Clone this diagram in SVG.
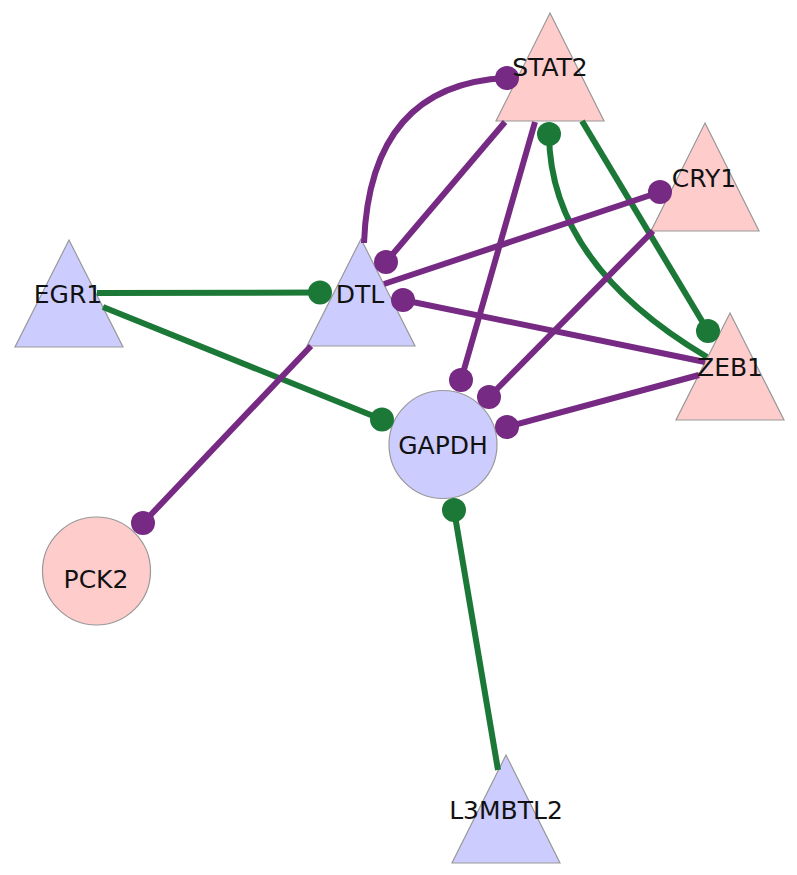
<svg xmlns="http://www.w3.org/2000/svg" width="797" height="875" viewBox="0 0 797 875">
<style>
.bg{fill:#ffffff}
.up{fill:#ffcccc;stroke:#999999;stroke-width:1.2}
.dn{fill:#ccccff;stroke:#999999;stroke-width:1.2}
.e{fill:none;stroke-width:6;stroke-linecap:butt}
.p{stroke:#762a83}
.g{stroke:#1b7837}
.dp{fill:#762a83}
.dg{fill:#1b7837}
.lbl{font-family:"DejaVu Sans","Liberation Sans",sans-serif;font-size:25px;fill:#111111;text-anchor:middle}
</style>
<rect class="bg" x="0" y="0" width="797" height="875"/>
<g id="nodes">
  <g id="STAT2"><polygon class="up" points="550,13 604,121 496,121"/></g>
  <g id="CRY1"><polygon class="up" points="705,123 759,231 651,231"/></g>
  <g id="EGR1"><polygon class="dn" points="69,240 123,347 15,347"/></g>
  <g id="DTL"><polygon class="dn" points="361,239 415,346 307,346"/></g>
  <g id="ZEB1"><polygon class="up" points="730,313 784,420 676,420"/></g>
  <g id="L3MBTL2"><polygon class="dn" points="506,755 560,863 452,863"/></g>
  <g id="GAPDH"><circle class="dn" cx="443" cy="444.5" r="54"/></g>
  <g id="PCK2"><circle class="up" cx="96.5" cy="571" r="54"/></g>
</g>
<g id="connectors">
  <line class="e g" x1="97" y1="293" x2="320" y2="292.5"/>
  <line class="e g" x1="103" y1="307" x2="382" y2="419.5"/>
  <line class="e p" x1="311" y1="346" x2="143" y2="523"/>
  <path class="e p" d="M364,243 Q370,84 507,78"/>
  <line class="e p" x1="505" y1="122" x2="386" y2="262"/>
  <line class="e p" x1="535" y1="122" x2="461" y2="380"/>
  <path class="e g" d="M707,357 Q550,264 549,134"/>
  <line class="e g" x1="582" y1="121" x2="708" y2="331"/>
  <line class="e p" x1="384" y1="284" x2="660" y2="192"/>
  <line class="e p" x1="653" y1="231" x2="489" y2="397"/>
  <line class="e p" x1="705" y1="362" x2="403" y2="300"/>
  <line class="e p" x1="699" y1="375" x2="507" y2="427"/>
  <line class="e g" x1="498" y1="770" x2="454" y2="510"/>
  <g id="ends">
    <circle class="dg" cx="320" cy="292.5" r="12"/>
    <circle class="dg" cx="382" cy="419.5" r="12"/>
    <circle class="dp" cx="143" cy="523" r="12"/>
    <circle class="dp" cx="507" cy="78" r="12"/>
    <circle class="dp" cx="386" cy="262" r="12"/>
    <circle class="dp" cx="461" cy="380" r="12"/>
    <circle class="dg" cx="549" cy="134" r="12"/>
    <circle class="dg" cx="708" cy="331" r="12"/>
    <circle class="dp" cx="660" cy="192" r="12"/>
    <circle class="dp" cx="489" cy="397" r="12"/>
    <circle class="dp" cx="403" cy="300" r="12"/>
    <circle class="dp" cx="507" cy="427" r="12"/>
    <circle class="dg" cx="454" cy="510" r="12"/>
  </g>
</g>
<g id="labels">
  <text class="lbl" x="550" y="76">STAT2</text>
  <text class="lbl" x="704" y="187">CRY1</text>
  <text class="lbl" x="68" y="303">EGR1</text>
  <text class="lbl" x="360" y="303">DTL</text>
  <text class="lbl" x="730" y="376">ZEB1</text>
  <text class="lbl" x="506" y="819">L3MBTL2</text>
  <text class="lbl" x="443" y="454">GAPDH</text>
  <text class="lbl" x="96" y="588">PCK2</text>
</g>
</svg>
